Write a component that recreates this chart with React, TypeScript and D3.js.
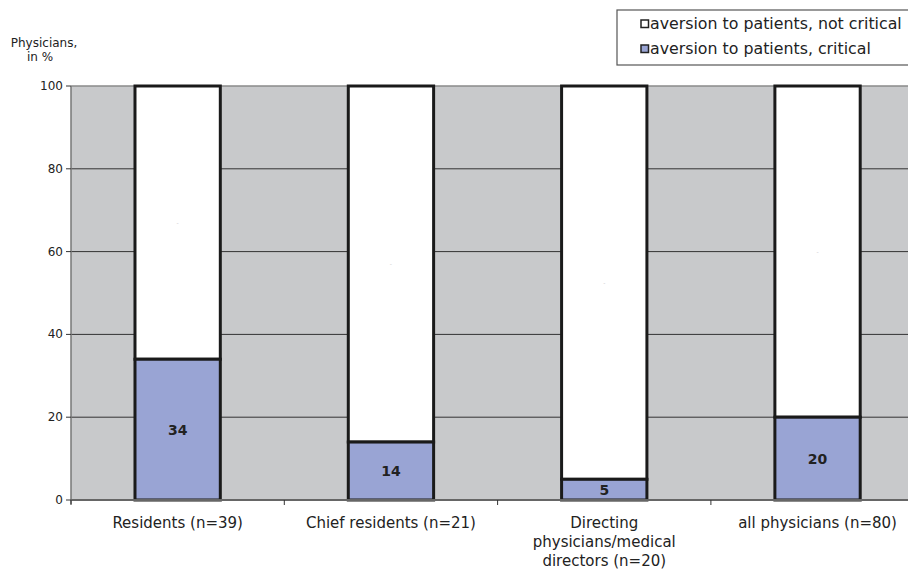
import { useEffect, useRef } from "react";
import * as d3 from "d3";

const categories = [
  ["Residents (n=39)"],
  ["Chief residents (n=21)"],
  ["Directing", "physicians/medical", "directors (n=20)"],
  ["all physicians (n=80)"],
];
const critical = [34, 14, 5, 20];
const notCritical = [66, 86, 95, 80];
const yTicks = [0, 20, 40, 60, 80, 100];
const seriesNames = ["aversion to patients, not critical", "aversion to patients, critical"];

const FONT = "'DejaVu Sans', Verdana, sans-serif";
const BLUE = "#99a4d4";
const BG = "#c8c9cb";

export default function App() {
  const svgRef = useRef<SVGSVGElement>(null);

  useEffect(() => {
    if (!svgRef.current) return;
    const svg = d3.select(svgRef.current);
    svg.selectAll("*").remove();

    const left = 71;
    const top = 86;
    const bottom = 500;
    const bandW = 213.3;
    const right = left + bandW * categories.length;

    const x = d3
      .scaleBand<number>()
      .domain(d3.range(categories.length))
      .range([left, right])
      .paddingInner(0.6)
      .paddingOuter(0.3);
    const xOuter = d3.scaleBand<number>().domain(d3.range(categories.length)).range([left, right]);
    const y = d3.scaleLinear().domain([0, 100]).range([bottom, top]);

    // plot background
    svg
      .append("rect")
      .attr("x", left)
      .attr("y", top)
      .attr("width", right - left)
      .attr("height", bottom - top)
      .attr("fill", BG);

    svg
      .append("line")
      .attr("x1", left)
      .attr("x2", right)
      .attr("y1", top)
      .attr("y2", top)
      .attr("stroke", "#8a8a8a")
      .attr("stroke-width", 1.5);

    // gridlines
    svg
      .selectAll(".grid")
      .data(yTicks.filter((t) => t > 0 && t < 100))
      .enter()
      .append("line")
      .attr("x1", left)
      .attr("x2", right)
      .attr("y1", (d) => y(d))
      .attr("y2", (d) => y(d))
      .attr("stroke", "#333")
      .attr("stroke-width", 1);

    // y axis
    svg
      .append("line")
      .attr("x1", left)
      .attr("x2", left)
      .attr("y1", top)
      .attr("y2", bottom + 4)
      .attr("stroke", "#777")
      .attr("stroke-width", 1.5);
    const yt = svg.selectAll(".yt").data(yTicks).enter().append("g");
    yt.append("line")
      .attr("x1", left - 5)
      .attr("x2", left)
      .attr("y1", (d) => y(d))
      .attr("y2", (d) => y(d))
      .attr("stroke", "#333");
    yt.append("text")
      .attr("x", left - 8)
      .attr("y", (d) => y(d) + 4)
      .attr("text-anchor", "end")
      .attr("font-family", FONT)
      .attr("font-size", 12)
      .attr("fill", "#222")
      .text((d) => d);

    // bars
    categories.forEach((_, i) => {
      const bx = x(i)!;
      const bw = x.bandwidth();
      svg
        .append("rect")
        .attr("x", bx)
        .attr("y", y(100))
        .attr("width", bw)
        .attr("height", y(critical[i]) - y(100))
        .attr("fill", "#fff")
        .attr("stroke", "#1a1a1a")
        .attr("stroke-width", 3);
      svg
        .append("rect")
        .attr("x", bx)
        .attr("y", y(critical[i]))
        .attr("width", bw)
        .attr("height", y(0) - y(critical[i]))
        .attr("fill", BLUE)
        .attr("stroke", "#1a1a1a")
        .attr("stroke-width", 3);
      svg
        .append("text")
        .attr("x", bx + bw / 2)
        .attr("y", (y(0) + y(critical[i])) / 2 + 5)
        .attr("text-anchor", "middle")
        .attr("font-family", FONT)
        .attr("font-weight", "bold")
        .attr("font-size", 14)
        .attr("fill", "#222")
        .text(critical[i]);
      svg
        .append("text")
        .attr("x", bx + bw / 2)
        .attr("y", (y(critical[i]) + y(critical[i] + notCritical[i])) / 2 + 2)
        .attr("text-anchor", "middle")
        .attr("font-family", FONT)
        .attr("font-size", 6)
        .attr("fill", "#ccc")
        .text("-");
    });

    // x axis
    svg
      .append("line")
      .attr("x1", left)
      .attr("x2", right)
      .attr("y1", bottom)
      .attr("y2", bottom)
      .attr("stroke", "#666")
      .attr("stroke-width", 2);
    d3.range(categories.length + 1).forEach((i) => {
      const tx = i < categories.length ? xOuter(i)! : right;
      svg
        .append("line")
        .attr("x1", tx)
        .attr("x2", tx)
        .attr("y1", bottom)
        .attr("y2", bottom + 5)
        .attr("stroke", "#333");
    });
    categories.forEach((lines, i) => {
      const cx = xOuter(i)! + xOuter.bandwidth() / 2;
      const t = svg
        .append("text")
        .attr("text-anchor", "middle")
        .attr("font-family", FONT)
        .attr("font-size", 15)
        .attr("fill", "#222");
      lines.forEach((l, k) => {
        t.append("tspan")
          .attr("x", cx)
          .attr("y", 528 + k * 19)
          .text(l);
      });
    });

    // y title
    svg
      .append("text")
      .attr("x", 44)
      .attr("y", 47)
      .attr("text-anchor", "middle")
      .attr("font-family", FONT)
      .attr("font-size", 12)
      .attr("fill", "#222")
      .text("Physicians,");
    svg
      .append("text")
      .attr("x", 40)
      .attr("y", 61)
      .attr("text-anchor", "middle")
      .attr("font-family", FONT)
      .attr("font-size", 12)
      .attr("fill", "#222")
      .text("in %");

    // legend
    svg
      .append("rect")
      .attr("x", 617)
      .attr("y", 10)
      .attr("width", 320)
      .attr("height", 55)
      .attr("fill", "#fff")
      .attr("stroke", "#555")
      .attr("stroke-width", 1.2);
    seriesNames.forEach((name, i) => {
      const ly = 24 + i * 25;
      svg
        .append("rect")
        .attr("x", 641)
        .attr("y", ly - 4)
        .attr("width", 7.5)
        .attr("height", 7.5)
        .attr("fill", i === 0 ? "#fff" : BLUE)
        .attr("stroke", "#222")
        .attr("stroke-width", 1.5);
      svg
        .append("text")
        .attr("x", 650)
        .attr("y", ly + 5)
        .attr("font-family", FONT)
        .attr("font-size", 15.8)
        .attr("fill", "#222")
        .text(name);
    });
  }, []);

  return (
    <svg
      ref={svgRef}
      width={908}
      height={571}
      style={{ position: "absolute", left: 0, top: 0, background: "#fff", display: "block" }}
    />
  );
}
